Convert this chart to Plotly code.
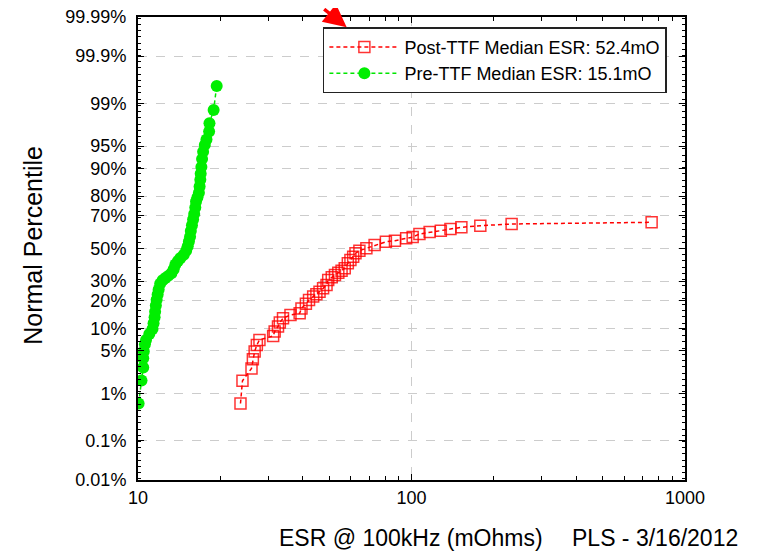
import plotly.graph_objects as go
from statistics import NormalDist

nd = NormalDist()

def z(p):
    return nd.inv_cdf(p / 100.0)

# Post-TTF (red) : ESR values (mOhm) and percentile (%)
post_esr = [23.7, 24.1, 26.0, 26.3, 26.7, 27.2, 27.8, 31.2, 31.6, 32.5, 33.0, 33.9,
            36.1, 39.0, 39.6, 41.1, 42.2, 43.7, 44.9, 46.1, 47.5, 48.9, 49.6, 51.1,
            52.5, 54.0, 55.5, 57.0, 58.5, 59.8, 61.2, 62.4, 64.5, 68.4, 73.3, 80.6,
            87.0, 95.6, 101, 106.9, 116.5, 128, 138.8, 152.2, 178.5, 232.3, 755]
post_pct = [0.64, 1.68, 2.7, 3.75, 4.9, 6.05, 7.1, 8.0, 9.1, 10.5, 11.7, 13.1,
            14.3, 14.9, 16.8, 18.7, 20.4, 22.0, 23.1, 24.4, 26.1, 27.9, 30.6, 32.2,
            33.5, 34.9, 36.1, 37.5, 40.6, 42.7, 44.8, 46.9, 48.6, 50.1, 52.2, 54.3,
            55.0, 56.5, 57.3, 59.2, 60.4, 61.3, 62.3, 63.3, 64.3, 65.3, 66.3]

# Pre-TTF (green)
pre_esr = [10.05, 10.3, 10.45, 10.45, 10.5, 10.6, 10.7, 11.0, 11.3, 11.4, 11.5, 11.55,
           11.62, 11.7, 11.8, 11.9, 12.05, 12.3, 12.6, 12.9, 13.25, 13.5, 13.7, 14.0,
           14.3, 14.7, 15.0, 15.2, 15.35, 15.5, 15.6, 15.75, 15.9, 16.05, 16.2, 16.3,
           16.5, 16.7, 16.8, 16.9, 16.95, 17.05, 17.15, 17.3, 17.55, 17.8, 18.2, 18.25,
           18.9, 19.4]
pre_pct = [0.64, 1.7, 2.8, 3.9, 4.9, 6.2, 7.1, 8.5, 9.8, 11.5, 13.5, 15.5,
           18, 20.5, 23, 25.5, 28.5, 30.5, 31.8, 33, 34.5, 37, 39.8, 42,
           44, 46, 48.5, 51.5, 54.5, 57.5, 61, 64.5, 68, 71, 74.5, 77.5,
           79.5, 81.5, 84, 86.5, 88.5, 90.5, 92.5, 94, 95.2, 96, 97, 97.8,
           98.7, 99.55]

y_tick_pct = [0.01, 0.1, 1, 5, 10, 20, 30, 50, 70, 80, 90, 95, 99, 99.9, 99.99]
y_tick_text = ["0.01%", "0.1%", "1%", "5%", "10%", "20%", "30%", "50%", "70%", "80%",
               "90%", "95%", "99%", "99.9%", "99.99%"]
x_tick_vals = [10, 100, 1000]
x_tick_text = ["10", "100", "1000"]
x_minor_vals = [20, 30, 40, 50, 60, 70, 80, 90, 200, 300, 400, 500, 600, 700, 800, 900]

legend_post = "Post-TTF Median ESR: 52.4mO"
legend_pre = "Pre-TTF Median ESR: 15.1mO"

FONT = "Liberation Sans, Arial, sans-serif"

fig = go.Figure()
fig.add_trace(go.Scatter(
    x=post_esr, y=[z(p) for p in post_pct], mode="lines+markers", name=legend_post,
    line=dict(color="red", width=1.5, dash="4px,3px"),
    marker=dict(symbol="square-open", size=11, color="rgba(255,0,0,0.8)",
                line=dict(width=1.5, color="rgba(255,0,0,0.8)")),
))
fig.add_trace(go.Scatter(
    x=pre_esr, y=[z(p) for p in pre_pct], mode="lines+markers", name=legend_pre,
    line=dict(color="#00e600", width=1.5, dash="4px,3px"),
    marker=dict(symbol="circle", size=12, color="#00ee00"),
))

zlim = z(99.99)
fig.update_layout(
    width=750, height=546,
    margin=dict(l=130, r=73, t=9, b=74, autoexpand=False),
    paper_bgcolor="white", plot_bgcolor="white",
    font=dict(family=FONT, size=18, color="black"),
    showlegend=True,
    legend=dict(x=0.338, y=0.978, xanchor="left", yanchor="top",
                bgcolor="white", bordercolor="#222", borderwidth=1.5,
                font=dict(size=18, family=FONT), itemwidth=70,
                tracegroupgap=0),
    xaxis=dict(type="log", range=[1, 3], tickmode="array", tickvals=x_tick_vals,
               ticktext=x_tick_text, ticks="inside", ticklen=6, tickwidth=1,
               tickcolor="black", showline=True, linecolor="black", linewidth=2,
               mirror="allticks", showgrid=True, gridcolor="#cccccc",
               griddash="dash", gridwidth=1, zeroline=False, automargin=False,
               tickfont=dict(size=18, family=FONT),
               minor=dict(tickmode="array", tickvals=x_minor_vals, ticks="inside",
                          ticklen=4, tickcolor="black", showgrid=False)),
    yaxis=dict(range=[-zlim, zlim], tickmode="array",
               tickvals=[z(p) for p in y_tick_pct], ticktext=y_tick_text,
               ticks="inside", ticklen=6, tickcolor="black", showline=True,
               linecolor="black", linewidth=2, mirror="allticks",
               showgrid=True, gridcolor="#cccccc", griddash="dash", gridwidth=1,
               zeroline=False, ticklabelstandoff=6, automargin=False,
               ticklabeloverflow="allow",
               tickfont=dict(size=18, family=FONT),
               minor=dict(tickmode="linear", tick0=0, dtick=0.1, ticks="inside",
                          ticklen=3, tickcolor="black", showgrid=False)),
)

fig.add_annotation(text="Normal Percentile", xref="paper", yref="paper",
                   x=-0.192, y=0.508, textangle=-90, showarrow=False,
                   font=dict(size=25, family=FONT), xanchor="center", yanchor="middle")
fig.add_annotation(text="ESR @ 100kHz (mOhms)", xref="paper", yref="paper",
                   x=0.499, y=-0.125, showarrow=False,
                   font=dict(size=23, family=FONT), xanchor="center", yanchor="middle")
fig.add_annotation(text="PLS - 3/16/2012", xref="paper", yref="paper",
                   x=0.945, y=-0.125, showarrow=False,
                   font=dict(size=23, family=FONT), xanchor="center", yanchor="middle")
fig.add_annotation(text="", xref="paper", yref="paper", x=0.3815, y=0.978,
                   ax=-24, ay=-34, showarrow=True, arrowhead=2, arrowsize=1.3,
                   arrowwidth=3.5, arrowcolor="red")

fig.write_html("out.html")
